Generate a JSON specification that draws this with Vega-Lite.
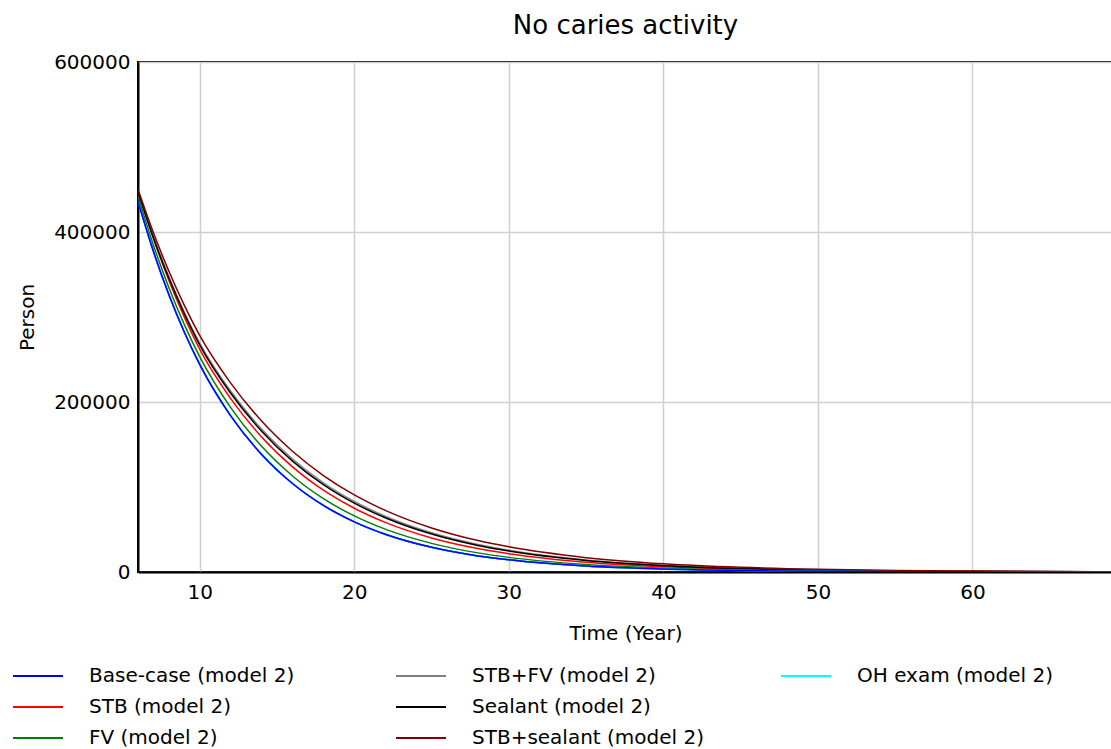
{
"$schema": "https://vega.github.io/schema/vega-lite/v6.json",
"autosize": {"type": "none"},
"padding": {"left": 138, "top": 62, "right": 0, "bottom": 177},
"width": 975,
"height": 510,
"background": "white",
"title": {"text": "No caries activity", "font": "DejaVu Sans", "fontSize": 26, "fontWeight": "normal", "color": "black", "offset": 13, "anchor": "middle"},
"config": {
  "view": {"stroke": "black", "strokeWidth": 2},
  "font": "DejaVu Sans",
  "axis": {"domainColor": "black", "domainWidth": 2, "ticks": false, "gridColor": "#d0d0d0", "gridWidth": 1.5, "labelFont": "DejaVu Sans", "labelFontSize": 20, "labelColor": "black", "titleFont": "DejaVu Sans", "titleFontSize": 20, "titleFontWeight": "normal", "titleColor": "black", "labelPadding": 8},
  "legend": {"labelFont": "DejaVu Sans", "labelFontSize": 20, "labelColor": "black", "labelLimit": 500, "symbolType": "M-2.5,0H2.5", "symbolSize": 400, "symbolStrokeWidth": 2, "labelOffset": 40, "rowPadding": 10, "padding": 0, "direction": "vertical"}
},
"data": {"values": [
{"series": "Base-case (model 2)", "year": 6, "value": 436000},
{"series": "Base-case (model 2)", "year": 7, "value": 377100},
{"series": "Base-case (model 2)", "year": 8, "value": 326100},
{"series": "Base-case (model 2)", "year": 9, "value": 282100},
{"series": "Base-case (model 2)", "year": 10, "value": 244000},
{"series": "Base-case (model 2)", "year": 12, "value": 183700},
{"series": "Base-case (model 2)", "year": 14, "value": 138300},
{"series": "Base-case (model 2)", "year": 16, "value": 104100},
{"series": "Base-case (model 2)", "year": 18, "value": 78300},
{"series": "Base-case (model 2)", "year": 20, "value": 59000},
{"series": "Base-case (model 2)", "year": 22, "value": 44400},
{"series": "Base-case (model 2)", "year": 25, "value": 29000},
{"series": "Base-case (model 2)", "year": 28, "value": 18900},
{"series": "Base-case (model 2)", "year": 30, "value": 14300},
{"series": "Base-case (model 2)", "year": 35, "value": 7000},
{"series": "Base-case (model 2)", "year": 40, "value": 3440},
{"series": "Base-case (model 2)", "year": 45, "value": 1690},
{"series": "Base-case (model 2)", "year": 50, "value": 830},
{"series": "Base-case (model 2)", "year": 55, "value": 410},
{"series": "Base-case (model 2)", "year": 60, "value": 200},
{"series": "Base-case (model 2)", "year": 69, "value": 60},
{"series": "STB (model 2)", "year": 6, "value": 449000},
{"series": "STB (model 2)", "year": 7, "value": 392400},
{"series": "STB (model 2)", "year": 8, "value": 342900},
{"series": "STB (model 2)", "year": 9, "value": 299800},
{"series": "STB (model 2)", "year": 10, "value": 262000},
{"series": "STB (model 2)", "year": 12, "value": 204000},
{"series": "STB (model 2)", "year": 14, "value": 158900},
{"series": "STB (model 2)", "year": 16, "value": 123700},
{"series": "STB (model 2)", "year": 18, "value": 96300},
{"series": "STB (model 2)", "year": 20, "value": 75000},
{"series": "STB (model 2)", "year": 22, "value": 58400},
{"series": "STB (model 2)", "year": 25, "value": 40100},
{"series": "STB (model 2)", "year": 28, "value": 27600},
{"series": "STB (model 2)", "year": 30, "value": 21500},
{"series": "STB (model 2)", "year": 35, "value": 11500},
{"series": "STB (model 2)", "year": 40, "value": 6150},
{"series": "STB (model 2)", "year": 45, "value": 3290},
{"series": "STB (model 2)", "year": 50, "value": 1760},
{"series": "STB (model 2)", "year": 55, "value": 940},
{"series": "STB (model 2)", "year": 60, "value": 500},
{"series": "STB (model 2)", "year": 69, "value": 160},
{"series": "FV (model 2)", "year": 6, "value": 442000},
{"series": "FV (model 2)", "year": 7, "value": 384500},
{"series": "FV (model 2)", "year": 8, "value": 334500},
{"series": "FV (model 2)", "year": 9, "value": 291000},
{"series": "FV (model 2)", "year": 10, "value": 253000},
{"series": "FV (model 2)", "year": 12, "value": 193400},
{"series": "FV (model 2)", "year": 14, "value": 147800},
{"series": "FV (model 2)", "year": 16, "value": 113000},
{"series": "FV (model 2)", "year": 18, "value": 86300},
{"series": "FV (model 2)", "year": 20, "value": 66000},
{"series": "FV (model 2)", "year": 22, "value": 50400},
{"series": "FV (model 2)", "year": 25, "value": 33700},
{"series": "FV (model 2)", "year": 28, "value": 22500},
{"series": "FV (model 2)", "year": 30, "value": 17200},
{"series": "FV (model 2)", "year": 35, "value": 8800},
{"series": "FV (model 2)", "year": 40, "value": 4480},
{"series": "FV (model 2)", "year": 45, "value": 2290},
{"series": "FV (model 2)", "year": 50, "value": 1170},
{"series": "FV (model 2)", "year": 55, "value": 600},
{"series": "FV (model 2)", "year": 60, "value": 300},
{"series": "FV (model 2)", "year": 69, "value": 90},
{"series": "STB+FV (model 2)", "year": 6, "value": 448000},
{"series": "STB+FV (model 2)", "year": 7, "value": 394400},
{"series": "STB+FV (model 2)", "year": 8, "value": 347200},
{"series": "STB+FV (model 2)", "year": 9, "value": 305600},
{"series": "STB+FV (model 2)", "year": 10, "value": 269000},
{"series": "STB+FV (model 2)", "year": 12, "value": 212600},
{"series": "STB+FV (model 2)", "year": 14, "value": 168100},
{"series": "STB+FV (model 2)", "year": 16, "value": 132900},
{"series": "STB+FV (model 2)", "year": 18, "value": 105000},
{"series": "STB+FV (model 2)", "year": 20, "value": 83000},
{"series": "STB+FV (model 2)", "year": 22, "value": 65600},
{"series": "STB+FV (model 2)", "year": 25, "value": 46100},
{"series": "STB+FV (model 2)", "year": 28, "value": 32400},
{"series": "STB+FV (model 2)", "year": 30, "value": 25600},
{"series": "STB+FV (model 2)", "year": 35, "value": 14200},
{"series": "STB+FV (model 2)", "year": 40, "value": 7900},
{"series": "STB+FV (model 2)", "year": 45, "value": 4390},
{"series": "STB+FV (model 2)", "year": 50, "value": 2440},
{"series": "STB+FV (model 2)", "year": 55, "value": 1350},
{"series": "STB+FV (model 2)", "year": 60, "value": 750},
{"series": "STB+FV (model 2)", "year": 69, "value": 260},
{"series": "Sealant (model 2)", "year": 6, "value": 447000},
{"series": "Sealant (model 2)", "year": 7, "value": 393000},
{"series": "Sealant (model 2)", "year": 8, "value": 345500},
{"series": "Sealant (model 2)", "year": 9, "value": 303700},
{"series": "Sealant (model 2)", "year": 10, "value": 267000},
{"series": "Sealant (model 2)", "year": 12, "value": 210300},
{"series": "Sealant (model 2)", "year": 14, "value": 165700},
{"series": "Sealant (model 2)", "year": 16, "value": 130500},
{"series": "Sealant (model 2)", "year": 18, "value": 102800},
{"series": "Sealant (model 2)", "year": 20, "value": 81000},
{"series": "Sealant (model 2)", "year": 22, "value": 63800},
{"series": "Sealant (model 2)", "year": 25, "value": 44600},
{"series": "Sealant (model 2)", "year": 28, "value": 31200},
{"series": "Sealant (model 2)", "year": 30, "value": 24600},
{"series": "Sealant (model 2)", "year": 35, "value": 13500},
{"series": "Sealant (model 2)", "year": 40, "value": 7460},
{"series": "Sealant (model 2)", "year": 45, "value": 4110},
{"series": "Sealant (model 2)", "year": 50, "value": 2260},
{"series": "Sealant (model 2)", "year": 55, "value": 1250},
{"series": "Sealant (model 2)", "year": 60, "value": 690},
{"series": "Sealant (model 2)", "year": 69, "value": 220},
{"series": "STB+sealant (model 2)", "year": 6, "value": 450000},
{"series": "STB+sealant (model 2)", "year": 7, "value": 399000},
{"series": "STB+sealant (model 2)", "year": 8, "value": 353800},
{"series": "STB+sealant (model 2)", "year": 9, "value": 313600},
{"series": "STB+sealant (model 2)", "year": 10, "value": 278000},
{"series": "STB+sealant (model 2)", "year": 12, "value": 222200},
{"series": "STB+sealant (model 2)", "year": 14, "value": 177600},
{"series": "STB+sealant (model 2)", "year": 16, "value": 142000},
{"series": "STB+sealant (model 2)", "year": 18, "value": 113500},
{"series": "STB+sealant (model 2)", "year": 20, "value": 90700},
{"series": "STB+sealant (model 2)", "year": 22, "value": 72500},
{"series": "STB+sealant (model 2)", "year": 25, "value": 51800},
{"series": "STB+sealant (model 2)", "year": 28, "value": 37000},
{"series": "STB+sealant (model 2)", "year": 30, "value": 29600},
{"series": "STB+sealant (model 2)", "year": 35, "value": 16900},
{"series": "STB+sealant (model 2)", "year": 40, "value": 9650},
{"series": "STB+sealant (model 2)", "year": 45, "value": 5500},
{"series": "STB+sealant (model 2)", "year": 50, "value": 3150},
{"series": "STB+sealant (model 2)", "year": 55, "value": 1800},
{"series": "STB+sealant (model 2)", "year": 60, "value": 1030},
{"series": "STB+sealant (model 2)", "year": 69, "value": 370},
{"series": "OH exam (model 2)", "year": 6, "value": 436000},
{"series": "OH exam (model 2)", "year": 7, "value": 377100},
{"series": "OH exam (model 2)", "year": 8, "value": 326100},
{"series": "OH exam (model 2)", "year": 9, "value": 282100},
{"series": "OH exam (model 2)", "year": 10, "value": 244000},
{"series": "OH exam (model 2)", "year": 12, "value": 183700},
{"series": "OH exam (model 2)", "year": 14, "value": 138300},
{"series": "OH exam (model 2)", "year": 16, "value": 104100},
{"series": "OH exam (model 2)", "year": 18, "value": 78300},
{"series": "OH exam (model 2)", "year": 20, "value": 59000},
{"series": "OH exam (model 2)", "year": 22, "value": 44400},
{"series": "OH exam (model 2)", "year": 25, "value": 29000},
{"series": "OH exam (model 2)", "year": 28, "value": 18900},
{"series": "OH exam (model 2)", "year": 30, "value": 14300},
{"series": "OH exam (model 2)", "year": 35, "value": 7000},
{"series": "OH exam (model 2)", "year": 40, "value": 3440},
{"series": "OH exam (model 2)", "year": 45, "value": 1690},
{"series": "OH exam (model 2)", "year": 50, "value": 830},
{"series": "OH exam (model 2)", "year": 55, "value": 410},
{"series": "OH exam (model 2)", "year": 60, "value": 200},
{"series": "OH exam (model 2)", "year": 69, "value": 60}
]},
"encoding": {
  "x": {"field": "year", "type": "quantitative", "scale": {"domain": [6, 69.1], "nice": false, "zero": false}, "axis": {"values": [10, 20, 30, 40, 50, 60], "title": "Time (Year)", "labelPadding": 10, "titlePadding": 21}},
  "y": {"field": "value", "type": "quantitative", "scale": {"domain": [0, 600000], "nice": false}, "axis": {"values": [0, 200000, 400000, 600000], "format": "d", "title": "Person", "titlePadding": 16}}
},
"layer": [
  {
    "transform": [{"filter": {"field": "series", "oneOf": ["Base-case (model 2)", "STB (model 2)", "FV (model 2)"]}}],
    "mark": {"type": "line", "strokeWidth": 1.5, "clip": true, "interpolate": "monotone"},
    "encoding": {"color": {"field": "series", "type": "nominal", "scale": {"domain": ["Base-case (model 2)", "STB (model 2)", "FV (model 2)"], "range": ["#0000ff", "#ff0000", "#008000"]}, "legend": {"orient": "none", "legendX": -111, "legendY": 603, "title": null}}}
  },
  {
    "transform": [{"filter": {"field": "series", "oneOf": ["STB+FV (model 2)", "Sealant (model 2)", "STB+sealant (model 2)"]}}],
    "mark": {"type": "line", "strokeWidth": 1.5, "clip": true, "interpolate": "monotone"},
    "encoding": {"color": {"field": "series", "type": "nominal", "scale": {"domain": ["STB+FV (model 2)", "Sealant (model 2)", "STB+sealant (model 2)"], "range": ["#808080", "#000000", "#800000"]}, "legend": {"orient": "none", "legendX": 272, "legendY": 603, "title": null}}}
  },
  {
    "transform": [{"filter": {"field": "series", "equal": "OH exam (model 2)"}}],
    "mark": {"type": "line", "strokeWidth": 1.5, "clip": true, "interpolate": "monotone"},
    "encoding": {"color": {"field": "series", "type": "nominal", "scale": {"domain": ["OH exam (model 2)"], "range": ["#00ffff"]}, "legend": {"orient": "none", "legendX": 657, "legendY": 603, "title": null}}}
  },
  {
    "transform": [{"filter": {"field": "series", "equal": "Base-case (model 2)"}}],
    "mark": {"type": "line", "strokeWidth": 1.5, "clip": true, "interpolate": "monotone", "color": "#0000ff"},
    "encoding": {}
  }
],
"resolve": {"scale": {"color": "independent"}, "legend": {"color": "independent"}}
}
